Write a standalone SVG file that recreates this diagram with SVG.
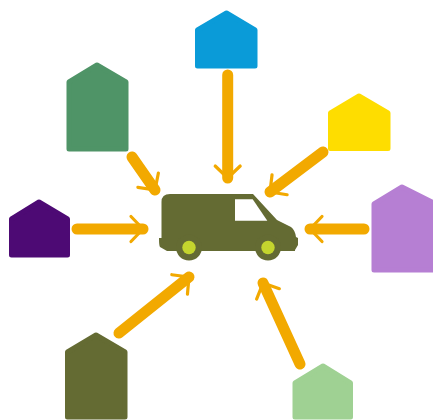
<svg xmlns="http://www.w3.org/2000/svg" width="433" height="420" viewBox="0 0 433 420">
<style>
.arrow{fill:none;stroke:#f2a900;stroke-width:11;stroke-linecap:round;marker-end:url(#barb)}
.house{stroke-width:5;stroke-linejoin:round}
</style>
<defs>
<marker id="barb" markerUnits="userSpaceOnUse" orient="auto" viewBox="-20 -16 24 32" refX="0" refY="0" markerWidth="24" markerHeight="32">
<path d="M-12-12.500L0 0L-12 12.500" fill="none" stroke="#f2a900" stroke-width="3.200" stroke-linecap="round" stroke-linejoin="round"/>
</marker>
</defs>
<rect width="433" height="420" fill="#fff"/>
<g id="house-green"><path class="house" fill="#4f9467" stroke="#4f9467" d="M97 65L126 82V149H69V82Z"/></g>
<g id="house-blue"><path class="house" fill="#0a9bd8" stroke="#0a9bd8" d="M226.500 13L255 30V66H197.500V30Z"/></g>
<g id="house-yellow"><path class="house" fill="#fedd00" stroke="#fedd00" d="M359 96L388 113V148.500H330.500V113Z"/></g>
<g id="house-purple"><path class="house" fill="#4d0a74" stroke="#4d0a74" d="M39 202L67.500 219V255H11.500V219Z"/></g>
<g id="house-lilac"><path class="house" fill="#b67fd3" stroke="#b67fd3" d="M402 187L436 204V270H374V204Z"/></g>
<g id="house-olive"><path class="house" fill="#646b33" stroke="#646b33" d="M96 335L125 352V417H67.500V352Z"/></g>
<g id="house-lightgreen"><path class="house" fill="#9fd193" stroke="#9fd193" d="M323 366L350.500 383V417H295V383Z"/></g>
<g id="connectors">
<line class="arrow" x1="132" y1="157" x2="155" y2="190"/>
<line class="arrow" x1="227.700" y1="75" x2="227.700" y2="178"/>
<line class="arrow" x1="323" y1="152" x2="270" y2="192"/>
<line class="arrow" x1="77" y1="229" x2="143" y2="229"/>
<line class="arrow" x1="364" y1="229" x2="310" y2="229"/>
<line class="arrow" x1="119" y1="333" x2="189" y2="277"/>
<line class="arrow" x1="300" y1="364" x2="263" y2="283"/>
</g>
<g id="van">
<path fill="#646b33" d="M170 194H253L277 220L291 227Q295 230 296 237L298 238V245L295 250V251H167L160 247Q159 246 159 238H161.500V202Q161.500 194 170 194Z"/>
<circle cx="189" cy="247.500" r="13" fill="#646b33"/>
<circle cx="268" cy="247.500" r="13" fill="#646b33"/>
<circle cx="189" cy="247.500" r="6.700" fill="#c4d52e"/>
<circle cx="268" cy="247.500" r="6.700" fill="#c4d52e"/>
<path fill="#fff" d="M235 199.300H252.700L267.300 220.700H235Z"/>
</g>
</svg>
